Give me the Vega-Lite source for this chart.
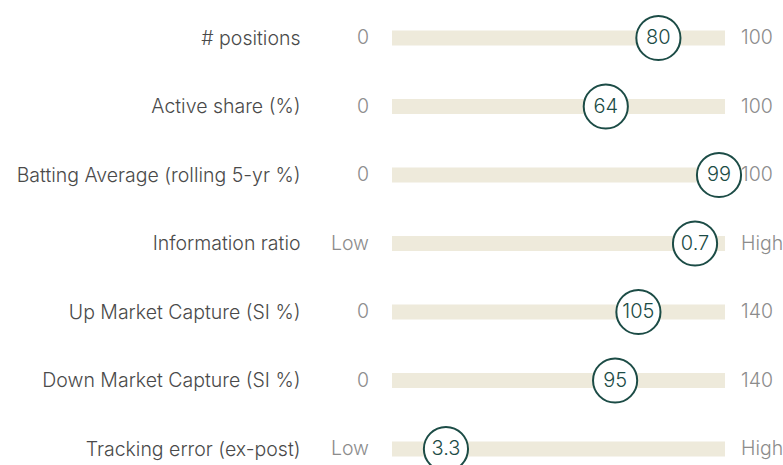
{
  "$schema": "https://vega.github.io/schema/vega-lite/v6.json",
  "width": 333,
  "height": 465,
  "autosize": "none",
  "padding": {"left": 392, "top": 0, "right": 58, "bottom": 0},
  "background": "white",
  "config": {"view": {"stroke": null}, "font": "Inter"},
  "data": {
    "values": [
      {"metric": "# positions", "value": "80", "pos": 0.80, "lo": "0", "hi": "100"},
      {"metric": "Active share (%)", "value": "64", "pos": 0.642, "lo": "0", "hi": "100"},
      {"metric": "Batting Average (rolling 5-yr %)", "value": "99", "pos": 0.982, "lo": "0", "hi": "100"},
      {"metric": "Information ratio", "value": "0.7", "pos": 0.91, "lo": "Low", "hi": "High"},
      {"metric": "Up Market Capture (SI %)", "value": "105", "pos": 0.74, "lo": "0", "hi": "140"},
      {"metric": "Down Market Capture (SI %)", "value": "95", "pos": 0.67, "lo": "0", "hi": "140"},
      {"metric": "Tracking error (ex-post)", "value": "3.3", "pos": 0.162, "lo": "Low", "hi": "High"}
    ]
  },
  "encoding": {
    "y": {
      "field": "metric",
      "type": "nominal",
      "sort": null,
      "scale": {"type": "point", "range": [38, 449], "padding": 0},
      "axis": {
        "title": null,
        "domain": false,
        "ticks": false,
        "labelPadding": 92,
        "labelFontSize": 19.5,
        "labelFont": "Inter",
        "labelFontWeight": 300,
        "labelColor": "#4a4a4a",
        "labelLimit": 400
      }
    }
  },
  "layer": [
    {
      "mark": {"type": "rule", "strokeWidth": 15, "strokeCap": "butt", "color": "#eeeadb"},
      "encoding": {
        "x": {"datum": 0, "type": "quantitative", "scale": {"domain": [0, 1]}, "axis": null},
        "x2": {"datum": 1}
      }
    },
    {
      "mark": {"type": "text", "align": "right", "dx": -23, "fontSize": 19.5, "fontWeight": 300, "color": "#8c8c8c", "baseline": "middle"},
      "encoding": {
        "x": {"datum": 0, "type": "quantitative"},
        "text": {"field": "lo"}
      }
    },
    {
      "mark": {"type": "text", "align": "left", "dx": 16, "fontSize": 19.5, "fontWeight": 300, "color": "#8c8c8c", "baseline": "middle"},
      "encoding": {
        "x": {"datum": 1, "type": "quantitative"},
        "text": {"field": "hi"}
      }
    },
    {
      "mark": {"type": "point", "shape": "circle", "filled": false, "fill": "white", "fillOpacity": 1, "stroke": "#1c4c46", "strokeWidth": 2, "size": 1950, "opacity": 1},
      "encoding": {
        "x": {"field": "pos", "type": "quantitative"}
      }
    },
    {
      "mark": {"type": "text", "align": "center", "baseline": "middle", "fontSize": 20, "fontWeight": 300, "color": "#1c4c46"},
      "encoding": {
        "x": {"field": "pos", "type": "quantitative"},
        "text": {"field": "value"}
      }
    }
  ]
}
